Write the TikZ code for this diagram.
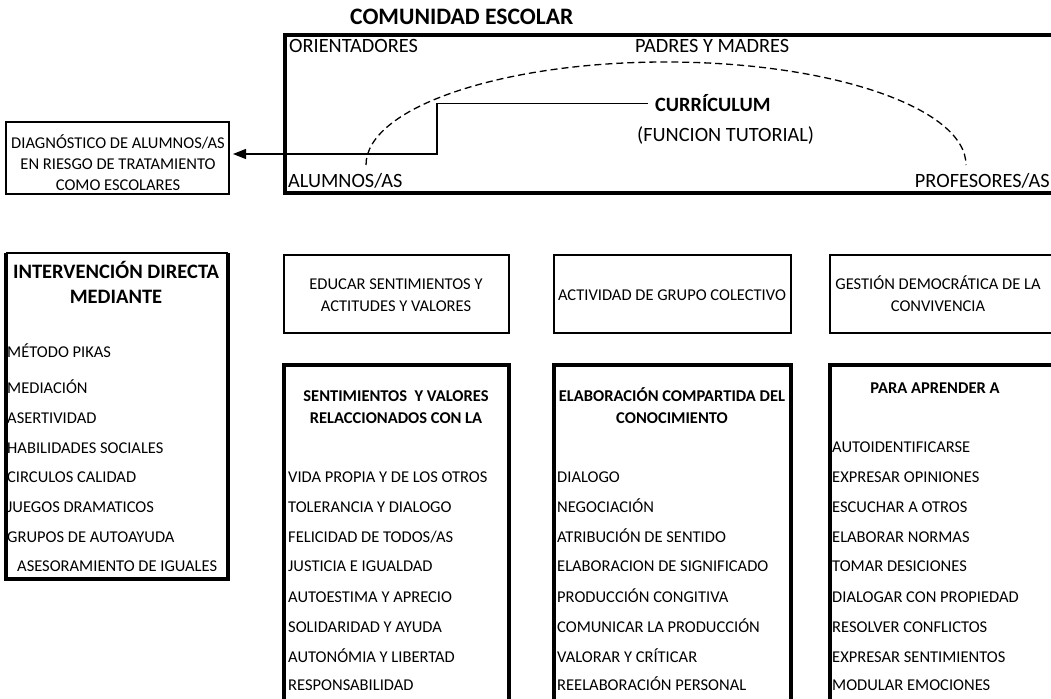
\documentclass[tikz,border=0pt]{standalone}
\usepackage{fontspec}
\setmainfont{Carlito}
\usetikzlibrary{arrows.meta}
\tikzset{
  lbl/.style={inner sep=0pt, anchor=base west, font=\fontsize{16.5}{20}\selectfont},
  biglbl/.style={lbl, font=\fontsize{20.3}{24}\selectfont},
  mid/.style={lbl, anchor=base},
  hdr/.style={mid, font=\fontsize{16.5}{20}\selectfont\bfseries},
  thinbox/.style={line width=2pt},
  thickbox/.style={line width=4pt},
  conn/.style={line width=1.3pt, -{Triangle[length=13pt,width=10pt]}, shorten >=3.5pt},
  dashline/.style={line width=1.3pt, dash pattern=on 7pt off 4pt},
}
\begin{document}
\begin{tikzpicture}[x=1pt,y=-1pt]
\useasboundingbox (0,0) rectangle (1051,698);
\clip (0,0) rectangle (1051,698);

\node[lbl, font=\fontsize{23.6}{27}\selectfont\bfseries] (comunidad) at (350,25) {COMUNIDAD ESCOLAR};
\draw[thickbox] (1070,35) -- (285,35) -- (285,193) -- (1070,193);
\node[biglbl] (orient) at (289,53) {ORIENTADORES};
\node[biglbl] (padres) at (635,53) {PADRES Y MADRES};
\node[biglbl, font=\fontsize{20.3}{24}\selectfont\bfseries, inner xsep=7pt] (curr) at (648,112) {CURRÍCULUM};
\node[biglbl] (funcion) at (637,141) {(FUNCION TUTORIAL)};
\node[biglbl] (alumnos) at (288,187) {ALUMNOS/AS};
\node[biglbl, anchor=base east] (profes) at (1050,187) {PROFESORES/AS};
\draw[dashline] (366,165) arc[start angle=180, end angle=360, x radius=300, y radius=103];

\node[draw, thinbox, minimum width=223pt, minimum height=72pt] (diag) at (117,158) {};
\node[mid] (diag1) at (118,148) {DIAGNÓSTICO DE ALUMNOS/AS};
\node[mid] (diag2) at (118,169) {EN RIESGO DE TRATAMIENTO};
\node[mid] (diag3) at (118,190) {COMO ESCOLARES};
\draw[conn] (curr.west) -- ++(-211,0) |- ([yshift=4pt]diag.east);

\draw[thickbox] (6,253) -- (6,579) -- (227.5,579) -- (227.5,253);
\draw[line width=1.2pt] (6,253) -- (227.5,253);
\node[mid, font=\fontsize{20.5}{25}\selectfont\bfseries] (interv1) at (116,278) {INTERVENCIÓN DIRECTA};
\node[mid, font=\fontsize{20.5}{25}\selectfont\bfseries] (interv2) at (116,303) {MEDIANTE};
\node[lbl] (i1) at (7,357) {MÉTODO PIKAS};
\node[lbl] (i2) at (7,393) {MEDIACIÓN};
\node[lbl] (i3) at (7,423) {ASERTIVIDAD};
\node[lbl] (i4) at (7,453) {HABILIDADES SOCIALES};
\node[lbl] (i5) at (7,482) {CIRCULOS CALIDAD};
\node[lbl] (i6) at (7,512) {JUEGOS DRAMATICOS};
\node[lbl] (i7) at (7,542) {GRUPOS DE AUTOAYUDA};
\node[lbl] (i8) at (17,571) {ASESORAMIENTO DE IGUALES};

\draw[thinbox] (284,255) rectangle (509,333);
\node[mid] (educar1) at (396,289) {EDUCAR SENTIMIENTOS Y};
\node[mid] (educar2) at (396,311) {ACTITUDES Y VALORES};
\draw[thinbox] (553.5,255) rectangle (791,333);
\node[mid] (activ) at (672,300) {ACTIVIDAD DE GRUPO COLECTIVO};
\draw[thinbox] (1070,255) -- (829.5,255) -- (829.5,333) -- (1070,333);
\node[mid] (gestion1) at (938,289) {GESTIÓN DEMOCRÁTICA DE LA};
\node[mid] (gestion2) at (938,311) {CONVIVENCIA};

\draw[thickbox] (284,705) -- (284,365) -- (509,365) -- (509,705);
\node[hdr] (sent1) at (396,401) {SENTIMIENTOS\ \ Y VALORES};
\node[hdr] (sent2) at (396,423) {RELACCIONADOS CON LA};
\node[lbl] (s1) at (288,482) {VIDA PROPIA Y DE LOS OTROS};
\node[lbl] (s2) at (288,512) {TOLERANCIA Y DIALOGO};
\node[lbl] (s3) at (288,542) {FELICIDAD DE TODOS/AS};
\node[lbl] (s4) at (288,571) {JUSTICIA E IGUALDAD};
\node[lbl] (s5) at (288,602) {AUTOESTIMA Y APRECIO};
\node[lbl] (s6) at (288,632) {SOLIDARIDAD Y AYUDA};
\node[lbl] (s7) at (288,662) {AUTONÓMIA Y LIBERTAD};
\node[lbl] (s8) at (288,690) {RESPONSABILIDAD};

\draw[thickbox] (553.5,705) -- (553.5,365) -- (791,365) -- (791,705);
\node[hdr] (elab1) at (672,401) {ELABORACIÓN COMPARTIDA DEL};
\node[hdr] (elab2) at (672,423) {CONOCIMIENTO};
\node[lbl] (e1) at (557,482) {DIALOGO};
\node[lbl] (e2) at (557,512) {NEGOCIACIÓN};
\node[lbl] (e3) at (557,542) {ATRIBUCIÓN DE SENTIDO};
\node[lbl] (e4) at (557,571) {ELABORACION DE SIGNIFICADO};
\node[lbl] (e5) at (557,602) {PRODUCCIÓN CONGITIVA};
\node[lbl] (e6) at (557,632) {COMUNICAR LA PRODUCCIÓN};
\node[lbl] (e7) at (557,662) {VALORAR Y CRÍTICAR};
\node[lbl] (e8) at (557,690) {REELABORACIÓN PERSONAL};

\draw[thickbox] (1070,365) -- (829.5,365) -- (829.5,705);
\node[hdr] (para) at (935,393) {PARA APRENDER A};
\node[lbl] (p1) at (832,452) {AUTOIDENTIFICARSE};
\node[lbl] (p2) at (832,482) {EXPRESAR OPINIONES};
\node[lbl] (p3) at (832,512) {ESCUCHAR A OTROS};
\node[lbl] (p4) at (832,542) {ELABORAR NORMAS};
\node[lbl] (p5) at (832,571) {TOMAR DESICIONES};
\node[lbl] (p6) at (832,602) {DIALOGAR CON PROPIEDAD};
\node[lbl] (p7) at (832,632) {RESOLVER CONFLICTOS};
\node[lbl] (p8) at (832,662) {EXPRESAR SENTIMIENTOS};
\node[lbl] (p9) at (832,690) {MODULAR EMOCIONES};
\end{tikzpicture}
\end{document}
